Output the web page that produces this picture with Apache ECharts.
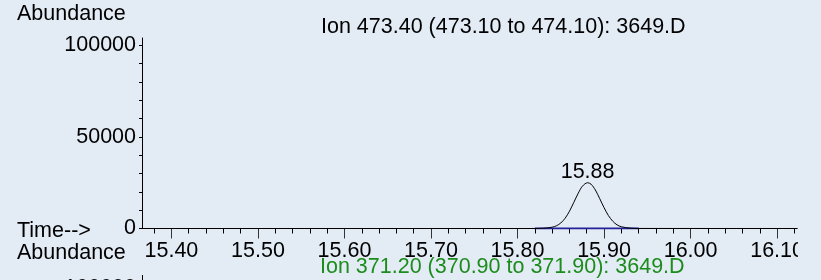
<!DOCTYPE html>
<html>
<head>
<meta charset="utf-8">
<script src="https://cdn.jsdelivr.net/npm/echarts@6/dist/echarts.min.js"></script>
<style>
  html, body { margin: 0; padding: 0; background: #e3ebf5; }
  #chart { width: 821px; height: 280px; }
</style>
</head>
<body>
<div id="chart"></div>
<script>
// ion 473.40 trace
const times = [15.366, 15.80, 15.81, 15.82, 15.83, 15.84, 15.845, 15.85, 15.855, 15.86, 15.865, 15.87, 15.875,
  15.881, 15.885, 15.89, 15.895, 15.90, 15.905, 15.91, 15.915, 15.92, 15.93, 15.94, 16.123];
const abundance = [0, 0, 0, 20, 150, 700, 1500, 3000, 5600, 9400, 14200, 19100, 23100,
  25000, 24200, 21000, 16300, 11400, 7100, 4000, 2000, 950, 200, 30, 0];
const baselineTimes = [15.82, 15.94];
const peakLabel = "15.88";

const xMajor = [15.40, 15.50, 15.60, 15.70, 15.80, 15.90, 16.00, 16.10];
const xMinor = [15.38, 15.42, 15.44, 15.46, 15.48, 15.52, 15.54, 15.56, 15.58, 15.62, 15.64, 15.66, 15.68,
  15.72, 15.74, 15.76, 15.78, 15.82, 15.84, 15.86, 15.88, 15.92, 15.94, 15.96, 15.98, 16.02, 16.04, 16.06, 16.08, 16.12];
const yLabels = [0, 50000, 100000];

const font = "'Liberation Sans', Arial, sans-serif";
const fs = 21.5;

const chart = echarts.init(document.getElementById("chart"));

const xBase = {
  type: "value",
  min: 15.366,
  max: 16.123,
  position: "bottom",
  splitLine: { show: false },
  axisLine: { show: true, onZero: false, lineStyle: { color: "#000", width: 1 } }
};

const option = {
  backgroundColor: "#e3ebf5",
  animation: false,
  grid: { left: 142, right: 24, top: 38, bottom: 51.5 },
  xAxis: [
    Object.assign({}, xBase, {
      axisTick: { show: true, length: 10, customValues: xMajor, lineStyle: { color: "#333" } },
      axisLabel: {
        customValues: xMajor,
        formatter: v => v.toFixed(2),
        color: "#000", fontFamily: font, fontSize: fs, margin: 12
      }
    }),
    Object.assign({}, xBase, {
      axisTick: { show: true, length: 5, customValues: xMinor, lineStyle: { color: "#000" } },
      axisLabel: { show: false }
    })
  ],
  yAxis: {
    type: "value",
    min: 0,
    max: 104000,
    interval: 50000,
    splitLine: { show: false },
    axisLine: { show: true, lineStyle: { color: "#000" } },
    axisTick: { show: true, length: 3, customValues: yLabels, lineStyle: { color: "#000" } },
    minorTick: { show: true, splitNumber: 5, length: 3, lineStyle: { color: "#000" } },
    axisLabel: {
      customValues: yLabels,
      formatter: v => String(v),
      color: "#000", fontFamily: font, fontSize: fs, margin: 6
    }
  },
  series: [
    {
      type: "line",
      xAxisIndex: 0,
      data: baselineTimes.map(t => [t, 0]),
      symbol: "none",
      lineStyle: { color: "#22229a", width: 2 },
      z: 2
    },
    {
      type: "line",
      xAxisIndex: 0,
      data: times.map((t, i) => [t, abundance[i]]),
      symbol: "none",
      smooth: 0.3,
      lineStyle: { color: "#000", width: 1 },
      z: 3,
      markPoint: {
        symbol: "circle",
        symbolSize: 0,
        data: [{ coord: [15.881, 25000] }],
        label: {
          show: true, position: "top", distance: 0,
          formatter: peakLabel,
          color: "#000", fontFamily: font, fontSize: fs
        }
      }
    }
  ],
  graphic: [
    { type: "text", left: 17, top: 3, style: { text: "Abundance", fill: "#000", font: fs + "px " + font } },
    { type: "text", left: 321, top: 16, style: { text: "Ion 473.40 (473.10 to 474.10): 3649.D", fill: "#000", font: fs + "px " + font } },
    { type: "text", left: 17, top: 220, style: { text: "Time-->", fill: "#000", font: fs + "px " + font } },
    { type: "text", left: 17, top: 242, style: { text: "Abundance", fill: "#000", font: fs + "px " + font } },
    { type: "text", left: 320, top: 256, style: { text: "Ion 371.20 (370.90 to 371.90): 3649.D", fill: "#1c8c1c", font: fs + "px " + font } },
    { type: "text", x: 136, y: 277.5, style: { text: "100000", fill: "#000", align: "right", verticalAlign: "top", font: fs + "px " + font } },
    { type: "line", shape: { x1: 142.5, y1: 275, x2: 142.5, y2: 280 }, style: { stroke: "#000", lineWidth: 1 } },
    { type: "rect", shape: { x: 798, y: 236, width: 23, height: 28 }, style: { fill: "#e3ebf5" }, z: 100 }
  ]
};

chart.setOption(option);
</script>
</body>
</html>
